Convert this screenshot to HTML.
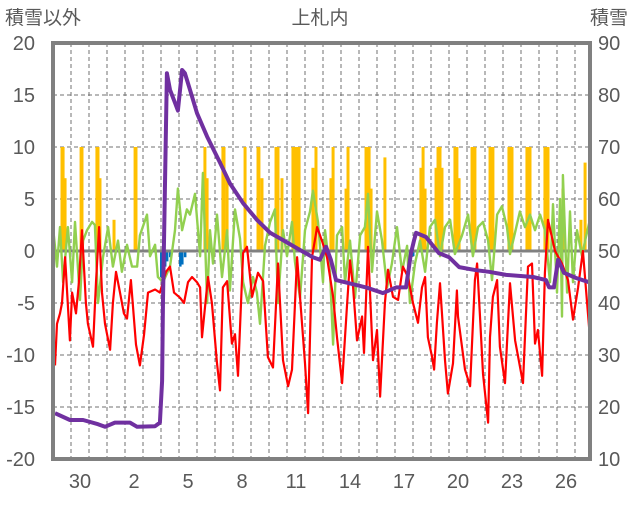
<!DOCTYPE html>
<html><head><meta charset="utf-8"><style>
html,body{margin:0;padding:0;background:#fff;}
svg text{font-family:"Liberation Sans","Noto Sans CJK JP",sans-serif;fill:#595959;}
</style></head><body>
<svg id="chart" width="636" height="501" viewBox="0 0 636 501" xmlns="http://www.w3.org/2000/svg">
<text x="5" y="24" font-size="19">積雪以外</text>
<text x="320" y="24" font-size="19" text-anchor="middle">上札内</text>
<text x="590" y="24" font-size="19">積雪</text>
<g id="grid"></g>
<g id="bars"></g>
<line x1="53" x2="590" y1="251" y2="251" stroke="#808080" stroke-width="3"/>
<g id="lines"></g>
<rect x="53" y="43" width="537" height="416" fill="none" stroke="#808080" stroke-width="4"/>
<g id="axes"></g>
</svg>
<script>
const leftTicks=[20,15,10,5,0,-5,-10,-15,-20];
const rightTicks=[90,80,70,60,50,40,30,20,10];
const xLabels=["30","2","5","8","11","14","17","20","23","26"];
const xLabelDays=[1.5,4.5,7.5,10.5,13.5,16.5,19.5,22.5,25.5,28.5];
const redT=[0.11,0.22,0.39,0.5,0.67,0.94,1.06,1.28,1.44,1.61,1.83,1.94,2.22,2.39,2.56,2.72,2.89,3.17,3.33,3.5,3.72,3.94,4.11,4.33,4.61,4.83,5.06,5.28,5.67,5.94,6.28,6.5,6.72,7.06,7.28,7.5,7.72,8.0,8.17,8.28,8.61,8.83,9.11,9.28,9.44,9.67,9.94,10.11,10.28,10.56,10.78,11.06,11.39,11.67,11.94,12.22,12.5,12.78,13.06,13.28,13.56,13.72,14.0,14.17,14.39,14.67,14.94,15.22,15.56,15.78,16.06,16.33,16.5,16.67,16.89,17.17,17.28,17.5,17.78,18.0,18.17,18.44,18.61,18.89,19.17,19.44,19.72,20.0,20.28,20.5,20.67,20.83,21.06,21.17,21.33,21.5,21.78,21.94,22.22,22.44,22.5,22.89,23.17,23.44,23.56,23.72,23.89,24.17,24.28,24.44,24.67,24.83,25.11,25.39,25.67,26.11,26.39,26.61,26.78,26.94,27.17,27.33,27.5,27.89,28.28,28.61,28.89,29.17,29.44,29.67,29.83];
const redV=[-11,-7,-6,-5,-0.6,-8.6,-4,-6,-3,2,-5,-7,-9.2,-3,2.3,-4,-7,-9.5,-5,-2,-4,-6,-6.5,-2.8,-9,-11,-8,-4,-3.7,-4,-2,-1.5,-4,-4.5,-5,-3,-2.5,-3,-3.5,-8.3,-2.5,-5,-10.8,-13.4,-3.5,-2.9,-8.9,-8,-12,-0.2,0.4,-4.4,-2.1,-2.9,-10.2,-11.2,-1.2,-10.5,-13,-11.4,-0.6,-4.4,-10.8,-15.6,-0.6,2.3,1,-0.6,-4.4,-8.3,-12.7,-5.4,-0.9,-3.5,-8.6,-6.3,-9.8,0.4,-10.5,-7.6,-14,-5,-1.8,-4.4,-4.7,-1.5,-2.5,-5,-6.9,-3.5,-2.5,-8.3,-10.2,-11.4,-6.9,-3.1,-10.5,-13.7,-10.8,-3.8,-6.3,-11.4,-13,-2.8,-1.2,-6.3,-11.8,-16.5,-8.3,-4.4,-2.8,-9.2,-12.7,-3.1,-8.6,-12.7,-1.5,-1.2,-8.9,-7.6,-12,-2.1,3,0,-1.2,-2.8,-6.6,-3.5,0,-5,-8.3];
const greenT=[0,0.22,0.39,0.56,0.83,1.06,1.22,1.5,1.67,1.89,2.17,2.33,2.5,2.78,3.06,3.33,3.61,3.83,4.11,4.39,4.67,4.83,5.22,5.39,5.67,5.83,6.11,6.5,6.78,6.94,7.17,7.44,7.61,7.89,8.17,8.33,8.56,8.72,8.89,9.11,9.39,9.67,9.83,10.11,10.39,10.56,10.83,11.11,11.33,11.5,11.78,12.06,12.33,12.5,12.78,13,13.28,13.44,13.72,14,14.28,14.44,14.72,15,15.11,15.39,15.56,15.78,16.06,16.22,16.5,16.78,17.06,17.33,17.5,17.72,18,18.28,18.56,18.83,19.11,19.39,19.67,19.83,20.11,20.39,20.67,20.94,21.22,21.5,21.78,22.06,22.33,22.72,23.06,23.33,23.61,23.89,24.17,24.39,24.67,24.94,25.22,25.39,25.67,25.94,26.22,26.5,26.78,27.06,27.33,27.61,27.78,28,28.17,28.28,28.33,28.56,28.72,28.89,29.11,29.39,29.56,29.83];
const greenV=[2.3,-1.5,2.3,-3,2.3,-3,2.8,-4.7,1,2,2.8,2.5,-5,-0.6,2.3,-1.5,1,-2,0.6,-1.5,-1.5,1.5,3.5,-0.5,0.6,-2.5,-3,-1.5,2,6,2,4,3.5,5.5,-0.5,7.5,-5,2,-1.2,3.5,-2.5,2,-3.8,4,1.2,-3,-5,-2.5,-4,-7,0.5,2.8,4,-5,2,-0.5,2.8,-1,-4.5,2,3.8,5.8,2.8,-3,2,-2,-9,1.5,2.3,-3,1,-4.5,1.5,2.3,5.5,-2,3.8,1,-3.5,-1.2,2.3,-2,0.5,-5,-1.2,1,-2,2.3,3,-0.5,2.3,3,-0.3,1.5,3.5,-0.5,2.3,2.8,1,-2.8,3.5,4.3,2.3,-0.3,1.8,3.8,2.3,3.5,2,3.5,2,-3,4.5,-4,5,-6.3,7.3,-4,3.8,-3,2,-0.5,1,3];
const snowT=[0.11,0.94,1.67,2.5,2.89,3.44,4.28,4.67,5.67,5.94,6.06,6.11,6.33,6.5,6.61,6.78,6.94,7.17,7.33,7.61,8,8.56,9.28,9.83,10.56,11.33,12.06,12.78,13.72,14.44,14.83,15.17,15.44,15.72,16.44,17.39,18.33,19.06,19.61,19.89,20.06,20.17,20.72,21,21.44,22,22.56,23.5,24.22,25.17,26.67,27.39,27.56,27.83,28.06,28.39,29.06,29.78];
const snowV=[18.8,17.5,17.5,16.7,16.2,17,17,16.2,16.3,17,25,40.6,84.2,81,80,78.5,77,84.8,84.2,81,76.5,72,67,63,59.2,56,53.5,52.1,50.2,48.8,48.3,50.8,48.3,44.4,43.8,43,41.9,43,43,49.6,52.1,53.5,52.7,51.5,49.6,48.8,46.9,46.3,46,45.4,45,44.4,43,43,48.3,45.8,44.8,44];
const precipT=[0.5,0.56,0.67,1.56,1.61,2.44,2.5,2.61,3.39,4.56,4.61,8.44,8.56,9.44,9.5,9.67,10.67,11.39,11.44,11.61,12.39,12.44,12.5,12.72,13.33,13.42,13.5,13.58,13.67,14.44,14.61,15.44,15.56,16.28,16.39,17.39,17.47,17.56,17.67,18.44,20.44,20.56,20.67,21.28,21.39,21.5,21.61,22.33,22.44,22.56,23.28,23.36,23.44,24.28,24.36,24.44,25.33,25.42,25.5,26.33,26.42,26.5,27.33,27.42,27.5,28.33,29.33,29.56];
const precipV=[10,10,7,10,10,10,10,7,3,10,10,10,7,10,10,7,10,10,10,7,10,10,10,7,10,10,10,10,10,8,10,7,10,6,10,10,10,10,6,9,8,10,6,8,10,10,8,10,10,7,10,10,10,10,10,10,10,10,10,10,10,10,10,10,10,6,3,8.5];
const meltT=[6,6.11,6.22,6.33,6.5,7.06,7.17,7.33,19.67,19.83,20];
const meltV=[-2.5,-2.5,-1.5,-1,-0.6,-1.5,-1.3,-0.6,-0.5,-0.5,-0.5];

const NS="http://www.w3.org/2000/svg";
const X0=53,DAY=18,Y0=251,PXU=10.4;
function xs(t){return X0+t*DAY;}
function yl(v){return Y0-v*PXU;}
function yr(v){return 43+(90-v)*5.2;}
function mk(tag,attrs,parent){const e=document.createElementNS(NS,tag);for(const k in attrs)e.setAttribute(k,attrs[k]);parent.appendChild(e);return e;}
const grid=document.getElementById('grid'),bars=document.getElementById('bars'),lines=document.getElementById('lines'),axes=document.getElementById('axes');
leftTicks.forEach(v=>{
  if(v!==0&&v!==20&&v!==-20){const l=mk('line',{x1:X0,x2:590,y1:yl(v),y2:yl(v),stroke:'#707070','stroke-width':1,'stroke-dasharray':'4,3'},grid);
  
  }
  const t=mk('text',{x:35,y:yl(v)+7,'font-size':20,'text-anchor':'end'},axes);t.textContent=String(v);
  
  
});
rightTicks.forEach(v=>{
  const t=mk('text',{x:598,y:yr(v)+7,'font-size':20},axes);t.textContent=String(v);
  
  
});
for(let d=1;d<30;d++){
  const l=mk('line',{x1:xs(d),x2:xs(d),y1:43,y2:459,stroke:'#707070','stroke-width':1,'stroke-dasharray':'4,3'},grid);
  
  
}
xLabels.forEach((s,i)=>{
  const t=mk('text',{x:xs(xLabelDays[i]),y:488,'font-size':20,'text-anchor':'middle'},axes);t.textContent=s;
  
  
});
precipT.forEach((t,i)=>{
  const r=mk('rect',{x:xs(t)-1.5,y:yl(precipV[i]),width:3,height:precipV[i]*PXU,fill:'#FFC000'},bars);
  
  
});
meltT.forEach((t,i)=>{
  const r=mk('rect',{x:xs(t)-1,y:Y0,width:2.5,height:-meltV[i]*PXU,fill:'#0070C0'},bars);
  
  
});
function poly(T,V,yf,color,w,name){
  const p=mk('polyline',{points:T.map((t,i)=>xs(t).toFixed(1)+','+yf(V[i]).toFixed(1)).join(' '),fill:'none',stroke:color,'stroke-width':w,'stroke-linejoin':'round'},lines);
  
  
}
poly(greenT,greenV,yl,'#92D050',2.4,'green-series-line');
poly(redT,redV,yl,'#FF0000',2.2,'temperature-line');
poly(snowT,snowV,yr,'#7030A0',4,'snow-depth-line');
</script>
</body></html>
